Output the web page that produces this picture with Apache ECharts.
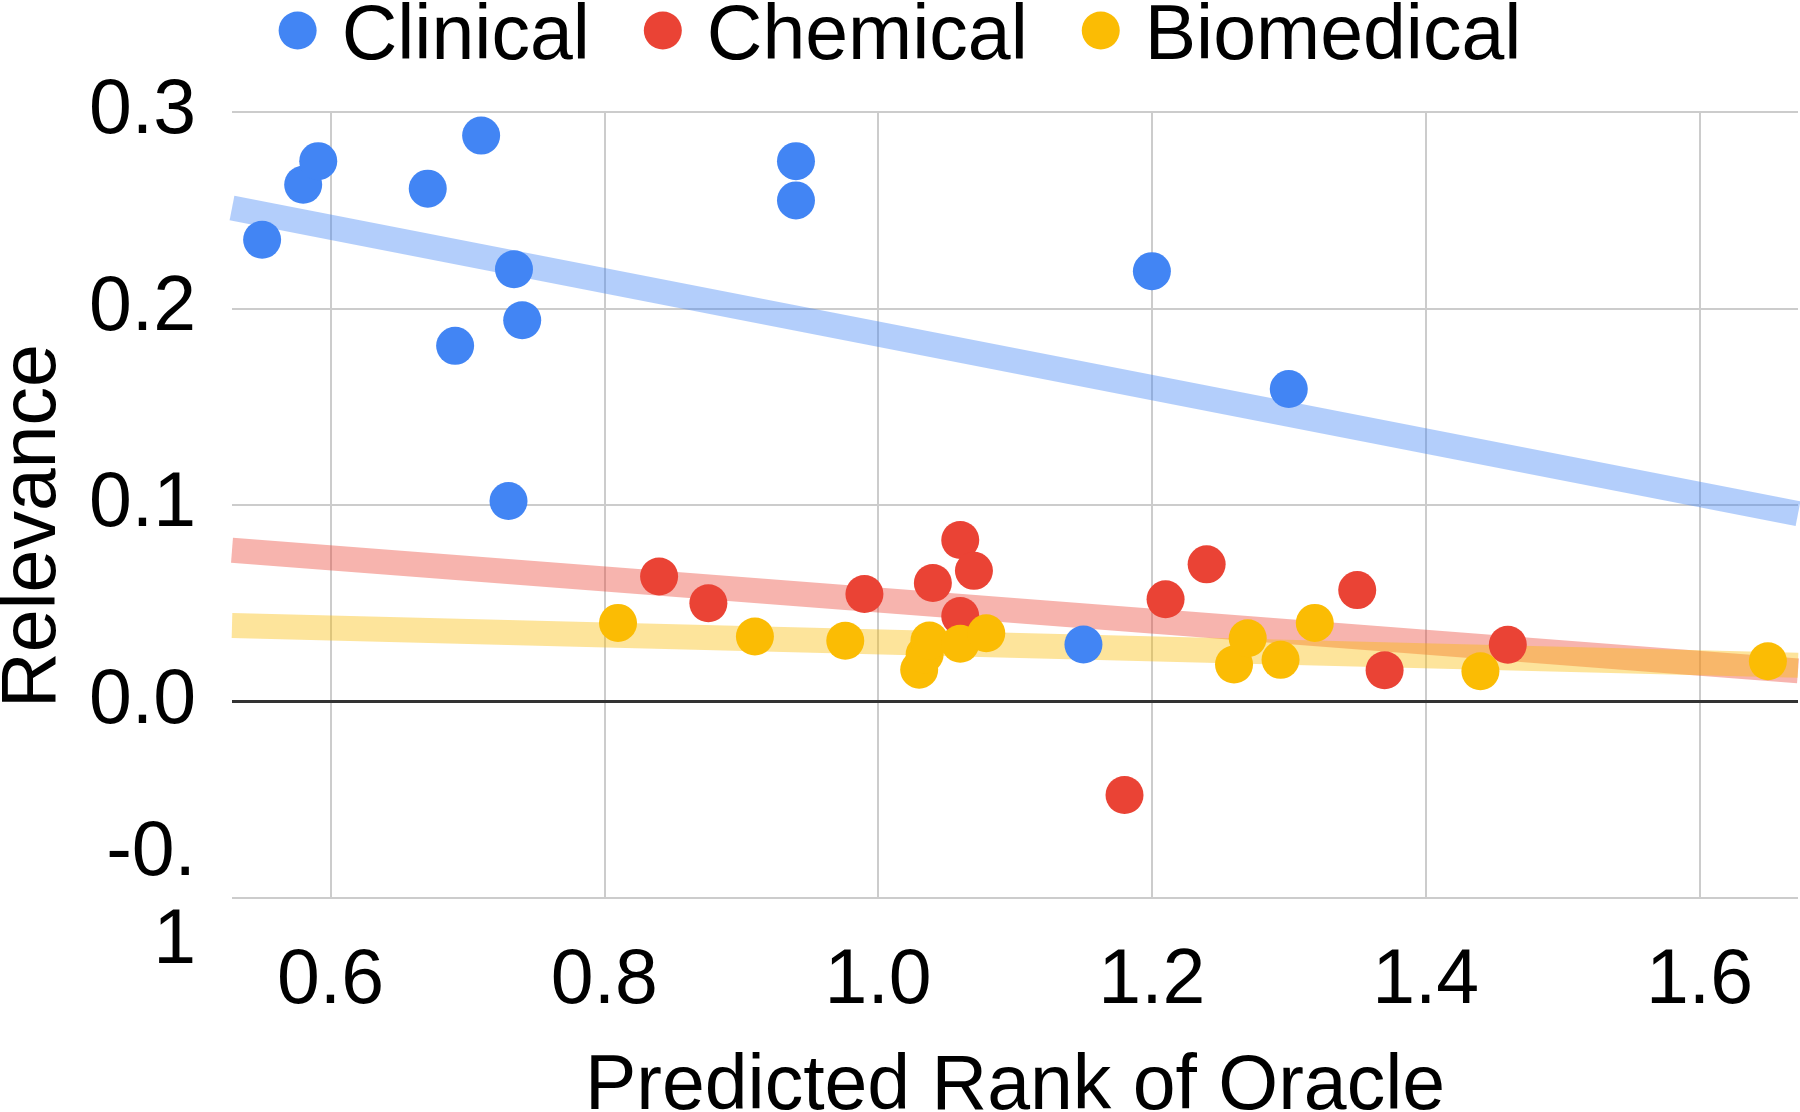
<!DOCTYPE html>
<html>
<head>
<meta charset="utf-8">
<script src="https://cdn.jsdelivr.net/npm/echarts@6/dist/echarts.min.js"></script>
<style>
  html, body { margin: 0; padding: 0; background: #fff; }
  #chart { width: 1800px; height: 1112px; }
</style>
</head>
<body>
<div id="chart"></div>
<script>
// ---- Data ----
const seriesNames = ['Clinical', 'Chemical', 'Biomedical'];

const clinicalX = [0.550, 0.580, 0.591, 0.671, 0.710, 0.734, 0.740, 0.691, 0.730, 0.940, 0.940, 1.200, 1.300, 1.150];
const clinicalY = [0.235, 0.263, 0.275, 0.261, 0.288, 0.220, 0.194, 0.181, 0.102, 0.275, 0.255, 0.219, 0.159, 0.029];

const chemicalX = [0.840, 0.876, 0.990, 1.040, 1.060, 1.070, 1.060, 1.180, 1.210, 1.240, 1.350, 1.370, 1.460];
const chemicalY = [0.0636, 0.050, 0.0547, 0.0603, 0.0822, 0.0665, 0.0435, -0.0476, 0.052, 0.0698, 0.0567, 0.0159, 0.0289];

const biomedicalX = [0.810, 0.910, 0.976, 1.030, 1.034, 1.0375, 1.060, 1.079, 1.260, 1.270, 1.294, 1.319, 1.440, 1.650];
const biomedicalY = [0.040, 0.0331, 0.0309, 0.0162, 0.024, 0.031, 0.0294, 0.0347, 0.0188, 0.0322, 0.0212, 0.040, 0.0154, 0.0205];

// Trend line end points
const clinicalTrend = [[0.528, 0.2511], [1.672, 0.0956]];
const chemicalTrend = [[0.528, 0.0770], [1.672, 0.0156]];
const biomedicalTrend = [[0.528, 0.0387], [1.672, 0.0185]];

// Axis settings
const xMin = 0.528, xMax = 1.672;
const yMin = -0.1, yMax = 0.3, yStep = 0.1;

const colors = ['#4285F4', '#EA4335', '#FBBC04'];
const FONT = '"Liberation Sans", Arial, sans-serif';

function zip(xs, ys) { return xs.map((x, i) => [x, ys[i]]); }

const chart = echarts.init(document.getElementById('chart'), null, { renderer: 'canvas' });

function trend(name, data, color) {
  return {
    name: name + ' trend',
    type: 'line',
    data: data,
    showSymbol: false,
    symbol: 'none',
    silent: true,
    z: 1,
    lineStyle: { color: color, width: 25, opacity: 0.4, cap: 'butt' },
    emphasis: { disabled: true },
    clip: true
  };
}

function scatter(name, data, color, extra) {
  return Object.assign({
    name: name,
    type: 'scatter',
    data: data,
    symbol: 'circle',
    symbolSize: 38,
    z: 3,
    itemStyle: { color: color, opacity: 1 },
    emphasis: { disabled: true }
  }, extra || {});
}

// Legend dot: a 38px circle sitting in the upper part of a 38x52 icon box
const legendDot = 'path://M0,19A19,19,0,1,0,38,19A19,19,0,1,0,0,19ZM19,52L19,52';

const option = {
  animation: false,
  backgroundColor: '#ffffff',
  color: colors,
  textStyle: { fontFamily: FONT },
  legend: {
    data: seriesNames,
    top: -1,
    left: 'center',
    padding: 0,
    icon: legendDot,
    itemWidth: 38,
    itemHeight: 52,
    itemGap: 54,
    textStyle: { fontSize: 77, color: '#000', fontFamily: FONT, padding: [0, 0, 0, 20] }
  },
  grid: { left: 232, right: 2, top: 112, bottom: 214, outerBoundsMode: 'none', containLabel: false },
  xAxis: {
    type: 'value',
    min: xMin,
    max: xMax,
    minInterval: 0.2,
    maxInterval: 0.2,
    name: 'Predicted Rank of Oracle',
    nameLocation: 'middle',
    nameGap: 151,
    nameTextStyle: { fontSize: 77, color: '#000', fontFamily: FONT },
    axisLine: { show: false },
    axisTick: { show: false },
    axisLabel: {
      fontSize: 77, color: '#000', fontFamily: FONT, margin: 45,
      showMinLabel: false, showMaxLabel: false,
      formatter: function (v) {
        return Math.abs(v * 5 - Math.round(v * 5)) < 1e-6 ? v.toFixed(1) : '';
      }
    },
    splitLine: { show: true, showMinLine: false, showMaxLine: false, lineStyle: { color: '#cccccc', width: 2 } }
  },
  yAxis: {
    type: 'value',
    min: yMin,
    max: yMax,
    interval: yStep,
    name: 'Relevance',
    nameLocation: 'middle',
    nameGap: 160,
    nameTextStyle: { fontSize: 77, color: '#000', fontFamily: FONT, padding: [0, 42, 0, 0] },
    axisLine: { show: false },
    axisTick: { show: false },
    axisLabel: {
      fontSize: 77, color: '#000', fontFamily: FONT, margin: 36, lineHeight: 88,
      formatter: function (v) {
        if (Math.abs(v + 0.1) < 1e-9) return '-0.\n1';
        return v.toFixed(1);
      }
    },
    splitLine: { show: true, lineStyle: { color: '#cccccc', width: 2 } }
  },
  series: [
    trend('Clinical', clinicalTrend, colors[0]),
    trend('Chemical', chemicalTrend, colors[1]),
    trend('Biomedical', biomedicalTrend, colors[2]),
    scatter('Clinical', zip(clinicalX, clinicalY), colors[0], {
      markLine: {
        silent: true,
        symbol: ['none', 'none'],
        label: { show: false },
        lineStyle: { color: '#333333', width: 3, type: 'solid' },
        emphasis: { disabled: true },
        data: [{ yAxis: 0 }]
      }
    }),
    scatter('Chemical', zip(chemicalX, chemicalY), colors[1]),
    scatter('Biomedical', zip(biomedicalX, biomedicalY), colors[2])
  ]
};

chart.setOption(option);
</script>
</body>
</html>
